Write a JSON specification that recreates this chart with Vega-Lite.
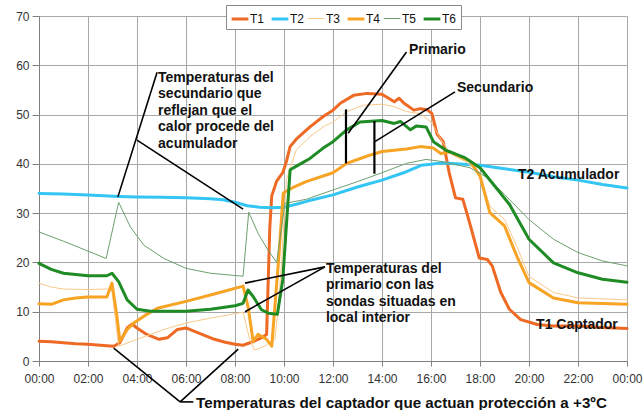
{
  "$schema": "https://vega.github.io/schema/vega-lite/v6.json",
  "width": 588,
  "height": 345,
  "autosize": {"type": "none"},
  "padding": {"left": 39, "top": 16, "right": 17, "bottom": 49},
  "background": "white",
  "config": {
    "font": "Liberation Sans",
    "view": {"stroke": null},
    "axis": {
      "labelFont": "Liberation Sans",
      "labelFontSize": 12,
      "labelColor": "#333333",
      "domainColor": "#808080",
      "tickColor": "#808080",
      "gridColor": "#a8a8a8",
      "gridWidth": 1,
      "title": null
    },
    "legend": {
      "title": null, "orient": "none", "legendX": 187, "legendY": -11,
      "direction": "horizontal", "columns": 6, "symbolType": "stroke", "symbolSize": 280,
      "labelFontSize": 12, "labelColor": "#111111", "labelOffset": 0, "labelLimit": 40,
      "columnPadding": 0, "padding": 4,
      "strokeColor": "#888888", "fillColor": "white"
    }
  },
  "datasets": {
    "series": [
      {"s": "T1", "h": 0, "v": 4.0}, {"s": "T1", "h": 0.5, "v": 3.9}, {"s": "T1", "h": 1, "v": 3.7}, {"s": "T1", "h": 1.5, "v": 3.5},
      {"s": "T1", "h": 2, "v": 3.4}, {"s": "T1", "h": 2.5, "v": 3.2}, {"s": "T1", "h": 3.05, "v": 3.0}, {"s": "T1", "h": 3.3, "v": 3.7},
      {"s": "T1", "h": 3.6, "v": 6.7}, {"s": "T1", "h": 3.8, "v": 7.5}, {"s": "T1", "h": 4.0, "v": 6.7}, {"s": "T1", "h": 4.4, "v": 5.4},
      {"s": "T1", "h": 4.9, "v": 4.4}, {"s": "T1", "h": 5.24, "v": 4.7}, {"s": "T1", "h": 5.65, "v": 6.4}, {"s": "T1", "h": 6.0, "v": 6.7},
      {"s": "T1", "h": 6.5, "v": 5.7}, {"s": "T1", "h": 7.16, "v": 4.4}, {"s": "T1", "h": 7.6, "v": 3.8}, {"s": "T1", "h": 8.0, "v": 3.4},
      {"s": "T1", "h": 8.33, "v": 3.2}, {"s": "T1", "h": 8.67, "v": 3.8}, {"s": "T1", "h": 9.08, "v": 4.7}, {"s": "T1", "h": 9.29, "v": 5.4},
      {"s": "T1", "h": 9.42, "v": 27.0}, {"s": "T1", "h": 9.5, "v": 33.5}, {"s": "T1", "h": 9.7, "v": 36.5}, {"s": "T1", "h": 9.95, "v": 38.2},
      {"s": "T1", "h": 10.1, "v": 40.5}, {"s": "T1", "h": 10.25, "v": 43.5}, {"s": "T1", "h": 10.5, "v": 45.0}, {"s": "T1", "h": 11.06, "v": 47.5},
      {"s": "T1", "h": 11.6, "v": 49.6}, {"s": "T1", "h": 12, "v": 50.9}, {"s": "T1", "h": 12.3, "v": 52.3}, {"s": "T1", "h": 12.84, "v": 53.9},
      {"s": "T1", "h": 13.4, "v": 54.3}, {"s": "T1", "h": 14, "v": 54.1}, {"s": "T1", "h": 14.27, "v": 53.3}, {"s": "T1", "h": 14.5, "v": 52.6},
      {"s": "T1", "h": 14.7, "v": 53.3}, {"s": "T1", "h": 14.9, "v": 52.3}, {"s": "T1", "h": 15.3, "v": 50.9}, {"s": "T1", "h": 15.56, "v": 51.2},
      {"s": "T1", "h": 15.84, "v": 51.0}, {"s": "T1", "h": 16.04, "v": 50.2}, {"s": "T1", "h": 16.25, "v": 46.0}, {"s": "T1", "h": 16.5, "v": 44.5},
      {"s": "T1", "h": 16.75, "v": 38.0}, {"s": "T1", "h": 17.0, "v": 33.1}, {"s": "T1", "h": 17.3, "v": 32.8}, {"s": "T1", "h": 17.5, "v": 29.4},
      {"s": "T1", "h": 17.76, "v": 24.7}, {"s": "T1", "h": 17.97, "v": 20.9}, {"s": "T1", "h": 18.3, "v": 20.6}, {"s": "T1", "h": 18.5, "v": 19.3},
      {"s": "T1", "h": 18.85, "v": 13.9}, {"s": "T1", "h": 19.2, "v": 10.5}, {"s": "T1", "h": 19.66, "v": 8.4}, {"s": "T1", "h": 20.34, "v": 7.4},
      {"s": "T1", "h": 21, "v": 7.1}, {"s": "T1", "h": 22, "v": 7.1}, {"s": "T1", "h": 23, "v": 6.8}, {"s": "T1", "h": 24, "v": 6.6},

      {"s": "T2", "h": 0, "v": 34.0}, {"s": "T2", "h": 1, "v": 33.9}, {"s": "T2", "h": 2, "v": 33.7}, {"s": "T2", "h": 3.25, "v": 33.4},
      {"s": "T2", "h": 4, "v": 33.3}, {"s": "T2", "h": 5, "v": 33.2}, {"s": "T2", "h": 6, "v": 33.1}, {"s": "T2", "h": 7, "v": 32.9},
      {"s": "T2", "h": 7.5, "v": 32.7}, {"s": "T2", "h": 8, "v": 32.2}, {"s": "T2", "h": 8.5, "v": 31.5}, {"s": "T2", "h": 9, "v": 31.2},
      {"s": "T2", "h": 9.5, "v": 31.1}, {"s": "T2", "h": 10, "v": 31.2}, {"s": "T2", "h": 10.5, "v": 31.8}, {"s": "T2", "h": 11, "v": 32.5},
      {"s": "T2", "h": 12, "v": 33.7}, {"s": "T2", "h": 13, "v": 35.3}, {"s": "T2", "h": 14, "v": 36.7}, {"s": "T2", "h": 15, "v": 38.4},
      {"s": "T2", "h": 15.6, "v": 39.7}, {"s": "T2", "h": 16, "v": 39.9}, {"s": "T2", "h": 16.4, "v": 40.2}, {"s": "T2", "h": 17, "v": 40.0},
      {"s": "T2", "h": 18, "v": 39.7}, {"s": "T2", "h": 19, "v": 39.0}, {"s": "T2", "h": 20, "v": 38.3}, {"s": "T2", "h": 21, "v": 37.4},
      {"s": "T2", "h": 22, "v": 36.7}, {"s": "T2", "h": 23, "v": 35.8}, {"s": "T2", "h": 24, "v": 35.1},

      {"s": "T3", "h": 0, "v": 15.8}, {"s": "T3", "h": 0.5, "v": 15.0}, {"s": "T3", "h": 1, "v": 14.6}, {"s": "T3", "h": 2, "v": 14.5},
      {"s": "T3", "h": 2.77, "v": 14.6}, {"s": "T3", "h": 2.98, "v": 14.2}, {"s": "T3", "h": 3.25, "v": 3.0}, {"s": "T3", "h": 4, "v": 4.4},
      {"s": "T3", "h": 5.1, "v": 6.4}, {"s": "T3", "h": 6, "v": 7.7}, {"s": "T3", "h": 7, "v": 8.7}, {"s": "T3", "h": 8.33, "v": 9.9},
      {"s": "T3", "h": 8.6, "v": 4.4}, {"s": "T3", "h": 8.8, "v": 2.2}, {"s": "T3", "h": 9.2, "v": 3.0}, {"s": "T3", "h": 9.63, "v": 4.4},
      {"s": "T3", "h": 9.75, "v": 10.0}, {"s": "T3", "h": 9.9, "v": 19.9}, {"s": "T3", "h": 10.1, "v": 36.8}, {"s": "T3", "h": 10.5, "v": 42.8},
      {"s": "T3", "h": 11.06, "v": 45.5}, {"s": "T3", "h": 11.6, "v": 47.5}, {"s": "T3", "h": 12, "v": 48.5}, {"s": "T3", "h": 12.56, "v": 50.6},
      {"s": "T3", "h": 13.25, "v": 51.9}, {"s": "T3", "h": 14, "v": 52.1}, {"s": "T3", "h": 14.5, "v": 51.6}, {"s": "T3", "h": 15, "v": 50.6},
      {"s": "T3", "h": 15.56, "v": 50.2}, {"s": "T3", "h": 16, "v": 48.5}, {"s": "T3", "h": 16.4, "v": 45.0}, {"s": "T3", "h": 16.8, "v": 42.0},
      {"s": "T3", "h": 17.4, "v": 40.5}, {"s": "T3", "h": 18, "v": 38.2}, {"s": "T3", "h": 18.4, "v": 31.4}, {"s": "T3", "h": 19, "v": 28.7},
      {"s": "T3", "h": 19.5, "v": 23.3}, {"s": "T3", "h": 20, "v": 17.2}, {"s": "T3", "h": 21, "v": 13.9}, {"s": "T3", "h": 22, "v": 12.8},
      {"s": "T3", "h": 24, "v": 12.4},

      {"s": "T4", "h": 0, "v": 11.6}, {"s": "T4", "h": 0.5, "v": 11.5}, {"s": "T4", "h": 1, "v": 12.4}, {"s": "T4", "h": 1.5, "v": 12.8},
      {"s": "T4", "h": 2, "v": 13.0}, {"s": "T4", "h": 2.77, "v": 13.0}, {"s": "T4", "h": 2.98, "v": 15.8}, {"s": "T4", "h": 3.18, "v": 9.1},
      {"s": "T4", "h": 3.3, "v": 4.0}, {"s": "T4", "h": 3.6, "v": 6.4}, {"s": "T4", "h": 3.87, "v": 7.7}, {"s": "T4", "h": 4.28, "v": 9.1},
      {"s": "T4", "h": 4.83, "v": 10.7}, {"s": "T4", "h": 6, "v": 12.1}, {"s": "T4", "h": 7, "v": 13.4}, {"s": "T4", "h": 8.33, "v": 15.2},
      {"s": "T4", "h": 8.53, "v": 11.1}, {"s": "T4", "h": 8.74, "v": 4.0}, {"s": "T4", "h": 8.94, "v": 5.4}, {"s": "T4", "h": 9.29, "v": 4.4},
      {"s": "T4", "h": 9.5, "v": 3.0}, {"s": "T4", "h": 9.77, "v": 19.9}, {"s": "T4", "h": 9.97, "v": 34.1}, {"s": "T4", "h": 10.4, "v": 35.3},
      {"s": "T4", "h": 10.9, "v": 36.4}, {"s": "T4", "h": 12, "v": 38.2}, {"s": "T4", "h": 12.56, "v": 40.1}, {"s": "T4", "h": 13.4, "v": 41.6},
      {"s": "T4", "h": 14, "v": 42.5}, {"s": "T4", "h": 15, "v": 43.0}, {"s": "T4", "h": 15.56, "v": 43.5}, {"s": "T4", "h": 16.1, "v": 43.2},
      {"s": "T4", "h": 16.4, "v": 42.1}, {"s": "T4", "h": 16.8, "v": 42.4}, {"s": "T4", "h": 17.6, "v": 40.5}, {"s": "T4", "h": 18, "v": 37.5},
      {"s": "T4", "h": 18.4, "v": 30.1}, {"s": "T4", "h": 19, "v": 27.4}, {"s": "T4", "h": 19.5, "v": 21.3}, {"s": "T4", "h": 20, "v": 15.9},
      {"s": "T4", "h": 21, "v": 12.8}, {"s": "T4", "h": 22, "v": 11.8}, {"s": "T4", "h": 24, "v": 11.5},

      {"s": "T5", "h": 0, "v": 26.2}, {"s": "T5", "h": 1, "v": 24.3}, {"s": "T5", "h": 2, "v": 22.3}, {"s": "T5", "h": 2.74, "v": 20.8},
      {"s": "T5", "h": 3.25, "v": 32.2}, {"s": "T5", "h": 3.73, "v": 27.2}, {"s": "T5", "h": 4.28, "v": 23.5}, {"s": "T5", "h": 5.1, "v": 20.8},
      {"s": "T5", "h": 6, "v": 18.8}, {"s": "T5", "h": 7, "v": 17.8}, {"s": "T5", "h": 8.33, "v": 17.2}, {"s": "T5", "h": 8.56, "v": 30.2},
      {"s": "T5", "h": 8.95, "v": 25.8}, {"s": "T5", "h": 9.35, "v": 22.5}, {"s": "T5", "h": 9.7, "v": 20.0}, {"s": "T5", "h": 10.04, "v": 32.0},
      {"s": "T5", "h": 10.9, "v": 32.8}, {"s": "T5", "h": 12, "v": 34.7}, {"s": "T5", "h": 13, "v": 36.4}, {"s": "T5", "h": 14, "v": 38.2},
      {"s": "T5", "h": 15, "v": 40.1}, {"s": "T5", "h": 15.8, "v": 40.9}, {"s": "T5", "h": 16.4, "v": 40.5}, {"s": "T5", "h": 17.6, "v": 39.2},
      {"s": "T5", "h": 18.3, "v": 37.2}, {"s": "T5", "h": 19, "v": 33.8}, {"s": "T5", "h": 20, "v": 28.7}, {"s": "T5", "h": 21, "v": 24.7},
      {"s": "T5", "h": 22, "v": 22.0}, {"s": "T5", "h": 23, "v": 20.3}, {"s": "T5", "h": 24, "v": 19.3},

      {"s": "T6", "h": 0, "v": 19.8}, {"s": "T6", "h": 0.5, "v": 18.6}, {"s": "T6", "h": 1, "v": 17.8}, {"s": "T6", "h": 2, "v": 17.3},
      {"s": "T6", "h": 2.77, "v": 17.3}, {"s": "T6", "h": 2.98, "v": 17.8}, {"s": "T6", "h": 3.25, "v": 16.1}, {"s": "T6", "h": 3.6, "v": 12.4},
      {"s": "T6", "h": 4, "v": 10.5}, {"s": "T6", "h": 4.55, "v": 10.1}, {"s": "T6", "h": 6, "v": 10.1}, {"s": "T6", "h": 7, "v": 10.5},
      {"s": "T6", "h": 8, "v": 11.2}, {"s": "T6", "h": 8.33, "v": 11.7}, {"s": "T6", "h": 8.53, "v": 14.4}, {"s": "T6", "h": 8.74, "v": 13.1},
      {"s": "T6", "h": 9.08, "v": 10.4}, {"s": "T6", "h": 9.36, "v": 9.7}, {"s": "T6", "h": 9.73, "v": 9.5}, {"s": "T6", "h": 9.95, "v": 16.5},
      {"s": "T6", "h": 10.25, "v": 38.8}, {"s": "T6", "h": 10.6, "v": 39.8}, {"s": "T6", "h": 11.06, "v": 41.1}, {"s": "T6", "h": 11.6, "v": 43.2},
      {"s": "T6", "h": 12, "v": 44.5}, {"s": "T6", "h": 12.56, "v": 46.9}, {"s": "T6", "h": 13.1, "v": 48.5}, {"s": "T6", "h": 14, "v": 48.8},
      {"s": "T6", "h": 14.5, "v": 48.2}, {"s": "T6", "h": 14.75, "v": 48.6}, {"s": "T6", "h": 15.16, "v": 46.9}, {"s": "T6", "h": 15.4, "v": 47.7},
      {"s": "T6", "h": 15.8, "v": 47.5}, {"s": "T6", "h": 16.1, "v": 44.5}, {"s": "T6", "h": 16.6, "v": 42.8}, {"s": "T6", "h": 17.4, "v": 41.2},
      {"s": "T6", "h": 18, "v": 39.2}, {"s": "T6", "h": 18.6, "v": 35.5}, {"s": "T6", "h": 19.2, "v": 31.8}, {"s": "T6", "h": 20, "v": 24.7},
      {"s": "T6", "h": 21, "v": 19.9}, {"s": "T6", "h": 22, "v": 17.9}, {"s": "T6", "h": 23, "v": 16.6}, {"s": "T6", "h": 24, "v": 16.0}
    ],
    "leaders": [
      {"seg": "a", "o": 0, "h": 4.82, "v": 58.6}, {"seg": "a", "o": 1, "h": 3.22, "v": 33.3},
      {"seg": "b", "o": 0, "h": 4.0, "v": 44.8}, {"seg": "b", "o": 1, "h": 8.33, "v": 30.8},
      {"seg": "p", "o": 0, "h": 15.0, "v": 62.7}, {"seg": "p", "o": 1, "h": 12.62, "v": 46.2},
      {"seg": "s", "o": 0, "h": 16.98, "v": 54.6}, {"seg": "s", "o": 1, "h": 13.71, "v": 44.5},
      {"seg": "c", "o": 0, "h": 11.67, "v": 19.1}, {"seg": "c", "o": 1, "h": 8.41, "v": 15.8},
      {"seg": "d", "o": 0, "h": 11.67, "v": 19.1}, {"seg": "d", "o": 1, "h": 8.41, "v": 10.0},
      {"seg": "e", "o": 0, "h": 5.76, "v": -8.3}, {"seg": "e", "o": 1, "h": 3.05, "v": 2.6},
      {"seg": "f", "o": 0, "h": 5.76, "v": -8.3}, {"seg": "f", "o": 1, "h": 8.13, "v": 2.4},
      {"seg": "g", "o": 0, "h": 5.76, "v": -8.3}, {"seg": "g", "o": 1, "h": 6.3, "v": -8.3}
    ],
    "bars": [
      {"seg": "prim", "h": 12.53, "v": 51.05}, {"seg": "prim", "h": 12.53, "v": 40.1},
      {"seg": "sec", "h": 13.69, "v": 48.7}, {"seg": "sec", "h": 13.69, "v": 38.0}
    ],
    "notes": [
      {"t": "Temperaturas del\nsecundario que\nreflejan que el\ncalor procede del\nacumulador", "h": 4.86, "v": 58.9, "pos": "top"},
      {"t": "Temperaturas del\nprimario con las\nsondas situadas en\nlocal interior", "h": 11.71, "v": 20.1, "pos": "top"},
      {"t": "Primario", "h": 15.1, "v": 63.1, "pos": "mid"},
      {"t": "Secundario", "h": 17.06, "v": 55.4, "pos": "mid"},
      {"t": "T2 Acumulador", "h": 19.55, "v": 37.7, "pos": "mid"},
      {"t": "T1 Captador", "h": 20.29, "v": 7.3, "pos": "mid"},
      {"t": "Temperaturas del captador que actuan protección a +3ºC", "h": 6.41, "v": -8.5, "pos": "foot"}
    ]
  },
  "encoding": {
    "x": {
      "field": "h", "type": "quantitative",
      "scale": {"domain": [0, 24], "nice": false, "zero": false},
      "axis": {
        "values": [0, 2, 4, 6, 8, 10, 12, 14, 16, 18, 20, 22, 24],
        "labelExpr": "(datum.value % 24 < 10 ? '0' : '') + (datum.value % 24) + ':00'",
        "tickSize": 5, "labelPadding": 7, "grid": true, "labelFlush": false
      }
    },
    "y": {
      "field": "v", "type": "quantitative",
      "scale": {"domain": [0, 70], "nice": false},
      "axis": {"values": [0, 10, 20, 30, 40, 50, 60, 70], "tickSize": 7, "labelPadding": 3, "grid": true}
    }
  },
  "layer": [
    {
      "data": {"name": "series"},
      "mark": {"type": "line", "strokeJoin": "round", "strokeCap": "round"},
      "encoding": {
        "color": {
          "field": "s", "type": "nominal",
          "scale": {"domain": ["T1", "T2", "T3", "T4", "T5", "T6"],
                    "range": ["#EE6A24", "#33C5F3", "#F9C98A", "#F7A324", "#6E9E6E", "#1F8B24"]},
          "legend": {
            "encode": {
              "symbols": {"update": {"strokeWidth": {"signal": "datum.value === 'T3' || datum.value === 'T5' ? 1 : 3"}}}
            }
          }
        },
        "strokeWidth": {
          "field": "s", "type": "nominal",
          "scale": {"type": "ordinal", "domain": ["T1", "T2", "T3", "T4", "T5", "T6"], "range": [3, 3, 1, 3, 1, 3]},
          "legend": null
        }
      }
    },
    {
      "data": {"name": "leaders"},
      "mark": {"type": "line", "color": "black", "strokeWidth": 1.6, "clip": false},
      "encoding": {"detail": {"field": "seg"}, "order": {"field": "o"}}
    },
    {
      "data": {"name": "bars"},
      "mark": {"type": "line", "color": "black", "strokeWidth": 2.2, "clip": false},
      "encoding": {"detail": {"field": "seg"}}
    },
    {
      "data": {"name": "notes"},
      "transform": [{"filter": "datum.pos == 'top'"}],
      "mark": {"type": "text", "align": "left", "baseline": "top", "fontWeight": "bold", "fontSize": 14, "lineHeight": 16.5, "lineBreak": "\n", "color": "#111111", "clip": false},
      "encoding": {"text": {"field": "t"}}
    },
    {
      "data": {"name": "notes"},
      "transform": [{"filter": "datum.pos == 'mid'"}],
      "mark": {"type": "text", "align": "left", "baseline": "middle", "fontWeight": "bold", "fontSize": 14, "color": "#111111", "clip": false},
      "encoding": {"text": {"field": "t"}}
    },
    {
      "data": {"name": "notes"},
      "transform": [{"filter": "datum.pos == 'foot'"}],
      "mark": {"type": "text", "align": "left", "baseline": "middle", "fontWeight": "bold", "fontSize": 15.2, "color": "#111111", "clip": false},
      "encoding": {"text": {"field": "t"}}
    }
  ]
}
